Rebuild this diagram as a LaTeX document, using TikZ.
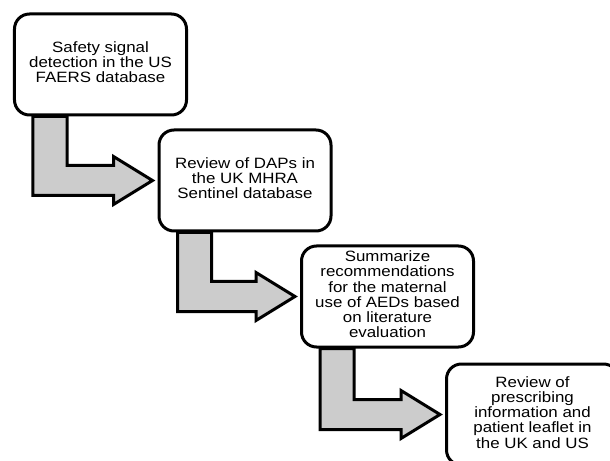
\documentclass[tikz,border=0pt]{standalone}
\usepackage{fontspec}
\setmainfont{Liberation Sans}
\usetikzlibrary{calc,backgrounds}
\newcommand{\stext}[1]{\scalebox{1.13}[1]{\begin{tabular}{@{}c@{}}#1\end{tabular}}}
\tikzset{
  stepbox/.style={draw=black, line width=3bp, fill=white, rounded corners=15bp,
    minimum width=172bp, minimum height=101bp, inner sep=0pt, align=center,
    font=\fontsize{15}{15}\selectfont},
  bentarrow/.style={draw=black, line width=3bp, fill=black!20, line join=miter}
}
\newcommand{\bentconn}[2]{%
  \path[bentarrow] let \p1=(#1.south west), \p2=(#2.west) in
    (\x1+20bp,\y1) -- (\x1+54bp,\y1) -- (\x1+54bp,\y2+15bp) --
    (\x2-44bp,\y2+15bp) -- (\x2-44bp,\y2+24bp) -- (\x2-5bp,\y2) --
    (\x2-44bp,\y2-24bp) -- (\x2-44bp,\y2-15bp) -- (\x1+20bp,\y2-15bp) -- cycle;}
\begin{document}
\begin{tikzpicture}[x=1bp,y=-1bp]
\useasboundingbox (0,0) rectangle (610,461);
\clip (0,0) rectangle (610,461);
\node[stepbox] (b1) at (100.5,64.5) {\stext{Safety signal\\detection in the US\\FAERS database}};
\node[stepbox] (b2) at (245,180.5) {\stext{Review of DAPs in\\the UK MHRA\\Sentinel database}};
\node[stepbox] (b3) at (387.5,296.5) {\stext{Summarize\\recommendations\\for the maternal\\use of AEDs based\\on literature\\evaluation}};
\node[stepbox] (b4) at (532.5,414.5) {\stext{Review of\\prescribing\\information and\\patient leaflet in\\the UK and US}};
\begin{pgfonlayer}{background}
\bentconn{b1}{b2}
\bentconn{b2}{b3}
\bentconn{b3}{b4}
\end{pgfonlayer}
\end{tikzpicture}
\end{document}
